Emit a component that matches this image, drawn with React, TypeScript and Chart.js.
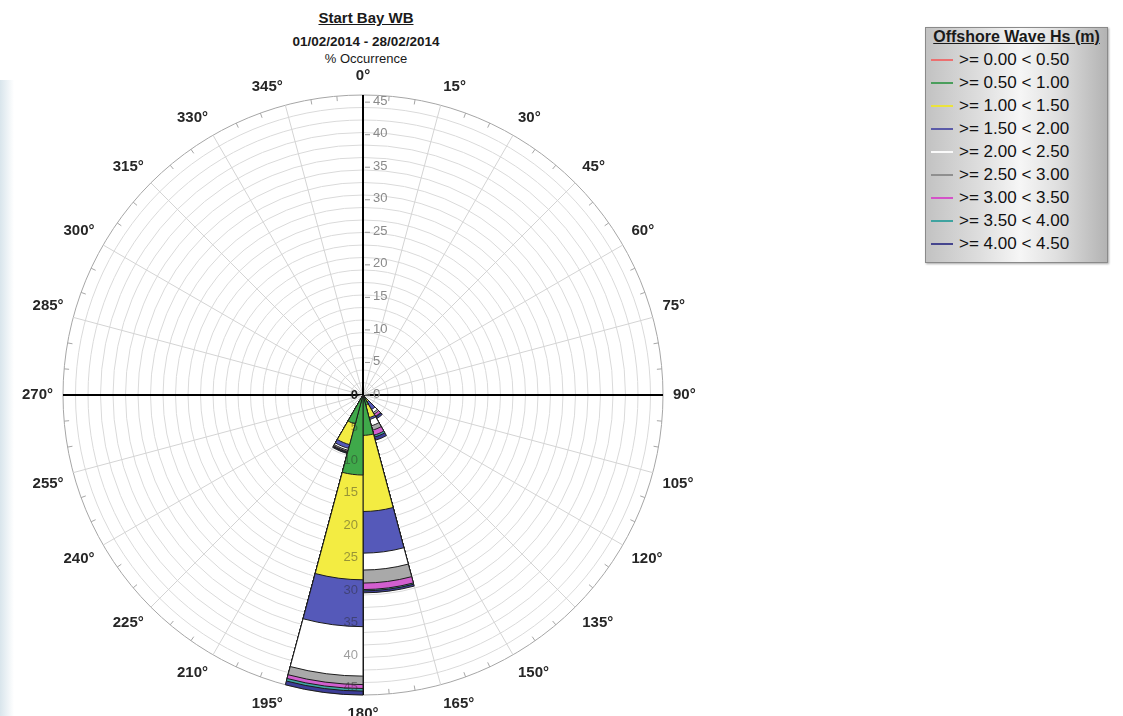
import React, { useEffect, useRef } from 'react';
import { Chart, registerables } from 'chart.js';

Chart.register(...registerables);

const FONT = "'Liberation Sans', Arial, Helvetica, sans-serif";

const TITLE = 'Start Bay WB';
const DATE_RANGE = '01/02/2014 - 28/02/2014';
const UNITS = '% Occurrence';
const LEGEND_TITLE = 'Offshore Wave Hs (m)';

// Direction sectors: each sector starts at the labelled bearing and spans 15°
const DIRECTION_LABELS = [
  '0°', '15°', '30°', '45°', '60°', '75°', '90°', '105°', '120°', '135°', '150°', '165°',
  '180°', '195°', '210°', '225°', '240°', '255°', '270°', '285°', '300°', '315°', '330°', '345°',
];

const HS_CLASSES = [
  '>= 0.00 < 0.50',
  '>= 0.50 < 1.00',
  '>= 1.00 < 1.50',
  '>= 1.50 < 2.00',
  '>= 2.00 < 2.50',
  '>= 2.50 < 3.00',
  '>= 3.00 < 3.50',
  '>= 3.50 < 4.00',
  '>= 4.00 < 4.50',
];

const HS_FILL_COLORS = [
  '#ff5a5a', '#3fa94a', '#f3ec42', '#5559b9', '#ffffff', '#a9a9a9', '#d25fcf', '#3fa6a0', '#3d3d98',
];
const HS_LINE_COLORS = [
  '#ec7070', '#4a9e5c', '#ebe33c', '#5a5aa8', '#fafafa', '#8f8f8f', '#d452c8', '#3fa3a0', '#45458e',
];

// % occurrence per direction sector (index = sector start / 15°)
//                  0  15 30 45 60 75 90 105 120 135  150  165   180  195  210 ...
const HS_000_050 = [0, 0, 0, 0, 0, 0, 0, 0, 0, 0.0, 0.1, 0.2, 0.3, 0.1, 0, 0, 0, 0, 0, 0, 0, 0, 0, 0];
const HS_050_100 = [0, 0, 0, 0, 0, 0, 0, 0, 0, 0.8, 1.5, 6.0, 12.0, 4.5, 0, 0, 0, 0, 0, 0, 0, 0, 0, 0];
const HS_100_150 = [0, 0, 0, 0, 0, 0, 0, 0, 0, 0.4, 2.0, 11.7, 16.1, 3.3, 0, 0, 0, 0, 0, 0, 0, 0, 0, 0];
const HS_150_200 = [0, 0, 0, 0, 0, 0, 0, 0, 0, 1.4, 0.3, 6.4, 7.2, 0.6, 0, 0, 0, 0, 0, 0, 0, 0, 0, 0];
const HS_200_250 = [0, 0, 0, 0, 0, 0, 0, 0, 0, 0.5, 1.0, 2.6, 7.6, 0.3, 0, 0, 0, 0, 0, 0, 0, 0, 0, 0];
const HS_250_300 = [0, 0, 0, 0, 0, 0, 0, 0, 0, 0.3, 0.7, 2.0, 1.3, 0.2, 0, 0, 0, 0, 0, 0, 0, 0, 0, 0];
const HS_300_350 = [0, 0, 0, 0, 0, 0, 0, 0, 0, 0.4, 0.8, 1.0, 0.6, 0.1, 0, 0, 0, 0, 0, 0, 0, 0, 0, 0];
const HS_350_400 = [0, 0, 0, 0, 0, 0, 0, 0, 0, 0.1, 0.3, 0.2, 0.4, 0.1, 0, 0, 0, 0, 0, 0, 0, 0, 0, 0];
const HS_400_450 = [0, 0, 0, 0, 0, 0, 0, 0, 0, 0.3, 0.5, 0.3, 0.6, 0.1, 0, 0, 0, 0, 0, 0, 0, 0, 0, 0];

const HS_SERIES = [
  HS_000_050, HS_050_100, HS_100_150, HS_150_200, HS_200_250,
  HS_250_300, HS_300_350, HS_350_400, HS_400_450,
];

const TICK_VALUES = [0, 5, 10, 15, 20, 25, 30, 35, 40, 45];
const GRID_DIVISIONS = 24;
const MINOR_TICK_DEG = 5;

const rosePlugin = {
  id: 'roseOverlay',
  beforeDatasetsDraw(chart: any) {
    const s = chart.scales.r;
    const ctx = chart.ctx;
    const xc = s.xCenter;
    const yc = s.yCenter;
    const R = s.drawingArea;
    ctx.save();
    ctx.strokeStyle = '#a6a6a6';
    ctx.lineWidth = 1;
    for (let a = 0; a < 360; a += MINOR_TICK_DEG) {
      if (a % 15 === 0) continue;
      const t = ((a - 90) * Math.PI) / 180;
      ctx.beginPath();
      ctx.moveTo(xc + Math.cos(t) * R, yc + Math.sin(t) * R);
      ctx.lineTo(xc + Math.cos(t) * (R - 5), yc + Math.sin(t) * (R - 5));
      ctx.stroke();
    }
    ctx.restore();
  },
  afterDatasetsDraw(chart: any) {
    const s = chart.scales.r;
    const ctx = chart.ctx;
    const xc = s.xCenter;
    const yc = s.yCenter;
    ctx.save();
    ctx.font = `13px ${FONT}`;
    ctx.textBaseline = 'middle';
    TICK_VALUES.forEach((v) => {
      const d = s.getDistanceFromCenterForValue(v);
      // north axis: labels to the right
      ctx.strokeStyle = '#9a9a9a';
      ctx.lineWidth = 1;
      ctx.beginPath();
      ctx.moveTo(xc + 2, yc - d);
      ctx.lineTo(xc + 7, yc - d);
      ctx.stroke();
      ctx.fillStyle = '#8a8a8a';
      ctx.textAlign = 'left';
      ctx.fillText(String(v), xc + 10, yc - d - 1);
      // south axis: labels to the left, seen through the sectors
      if (v > 0) {
        ctx.fillStyle = 'rgba(40,40,40,0.45)';
        ctx.textAlign = 'right';
        ctx.fillText(String(v), xc - 5, yc + d);
      }
    });
    ctx.fillStyle = '#1a1a1a';
    ctx.textAlign = 'right';
    ctx.font = `bold 13px ${FONT}`;
    ctx.fillText('0', xc - 5, yc);
    ctx.restore();
  },
};

export default function App() {
  const canvasRef = useRef<HTMLCanvasElement>(null);

  useEffect(() => {
    const canvas = canvasRef.current;
    if (!canvas) return;
    const cumulative = HS_SERIES.map((_, k) =>
      DIRECTION_LABELS.map((__, i) =>
        HS_SERIES.slice(0, k + 1).reduce((sum, arr) => sum + arr[i], 0)
      )
    );
    const totals = cumulative[cumulative.length - 1];
    const rMax = Math.max(...totals);

    const chart = new Chart(canvas, {
      type: 'polarArea',
      data: {
        labels: DIRECTION_LABELS,
        datasets: cumulative.map((data, k) => ({
          label: HS_CLASSES[k],
          data,
          backgroundColor: HS_FILL_COLORS[k],
          borderColor: '#1c1c1c',
          borderWidth: (c: any) => (c.raw > 0 ? 1 : 0),
        })),
      },
      options: {
        responsive: true,
        maintainAspectRatio: false,
        animation: false,
        events: [],
        layout: { padding: 0 },
        plugins: {
          legend: { display: false },
          tooltip: { enabled: false },
          title: { display: false },
        },
        scales: {
          r: {
            min: 0,
            max: rMax,
            startAngle: 0,
            ticks: { display: false, stepSize: rMax / GRID_DIVISIONS },
            grid: {
              circular: true,
              lineWidth: 1,
              color: (c: any) => (c.index === GRID_DIVISIONS ? '#a6a6a6' : '#dadada'),
            },
            angleLines: {
              display: true,
              color: (c: any) => (c.index % 6 === 0 ? '#000000' : '#d4d4d4'),
              lineWidth: (c: any) => (c.index % 6 === 0 ? 2 : 1),
            },
            pointLabels: {
              display: true,
              padding: 10,
              color: '#262626',
              font: { family: FONT, size: 15, weight: 'bold' },
            },
          },
        },
      } as any,
      plugins: [rosePlugin],
    });
    return () => chart.destroy();
  }, []);

  return (
    <div
      style={{
        position: 'fixed',
        left: 0,
        top: 0,
        width: 1123,
        height: 716,
        overflow: 'hidden',
        background: '#ffffff',
        fontFamily: FONT,
      }}
    >
      <div
        style={{
          position: 'absolute',
          left: 0,
          top: 80,
          width: 14,
          height: 636,
          background: 'linear-gradient(to right, #d9e5ec, rgba(255,255,255,0))',
        }}
      />
      <div style={{ position: 'absolute', left: -15, top: 67, width: 756, height: 656 }}>
        <canvas ref={canvasRef} />
      </div>
      <div
        style={{
          position: 'absolute',
          left: 216,
          width: 300,
          top: 9,
          textAlign: 'center',
          fontWeight: 'bold',
          fontSize: 15,
          lineHeight: '18px',
          textDecoration: 'underline',
          color: '#1a1a1a',
        }}
      >
        {TITLE}
      </div>
      <div
        style={{
          position: 'absolute',
          left: 216,
          width: 300,
          top: 34,
          textAlign: 'center',
          fontWeight: 'bold',
          fontSize: 13.5,
          lineHeight: '16px',
          color: '#1a1a1a',
        }}
      >
        {DATE_RANGE}
      </div>
      <div
        style={{
          position: 'absolute',
          left: 216,
          width: 300,
          top: 51,
          textAlign: 'center',
          fontSize: 13,
          lineHeight: '16px',
          color: '#1a1a1a',
        }}
      >
        {UNITS}
      </div>
      <div
        style={{
          position: 'absolute',
          left: 925,
          top: 27,
          width: 181,
          height: 234,
          border: '1px solid #8a8a8a',
          boxShadow: '1px 1px 2px rgba(0,0,0,0.35)',
          background:
            'linear-gradient(to right, #c2c2c2 0%, #dedede 30%, #f6f6f6 52%, #e0e0e0 72%, #b3b3b3 100%)',
        }}
      >
        <div
          style={{
            position: 'absolute',
            left: 0,
            width: 181,
            top: 0,
            textAlign: 'center',
            fontWeight: 'bold',
            fontSize: 16,
            lineHeight: '18px',
            textDecoration: 'underline',
            color: '#1a1a1a',
          }}
        >
          {LEGEND_TITLE}
        </div>
        {HS_CLASSES.map((label, i) => (
          <div
            key={label}
            style={{ position: 'absolute', left: 5, top: 22 + i * 23, height: 20, width: 176 }}
          >
            <div
              style={{
                position: 'absolute',
                left: 0,
                top: 9,
                width: 22,
                height: 2,
                background: HS_LINE_COLORS[i],
              }}
            />
            <div
              style={{
                position: 'absolute',
                left: 28,
                top: 0,
                fontSize: 17,
                lineHeight: '20px',
                color: '#111111',
                whiteSpace: 'nowrap',
              }}
            >
              {label}
            </div>
          </div>
        ))}
      </div>
    </div>
  );
}
